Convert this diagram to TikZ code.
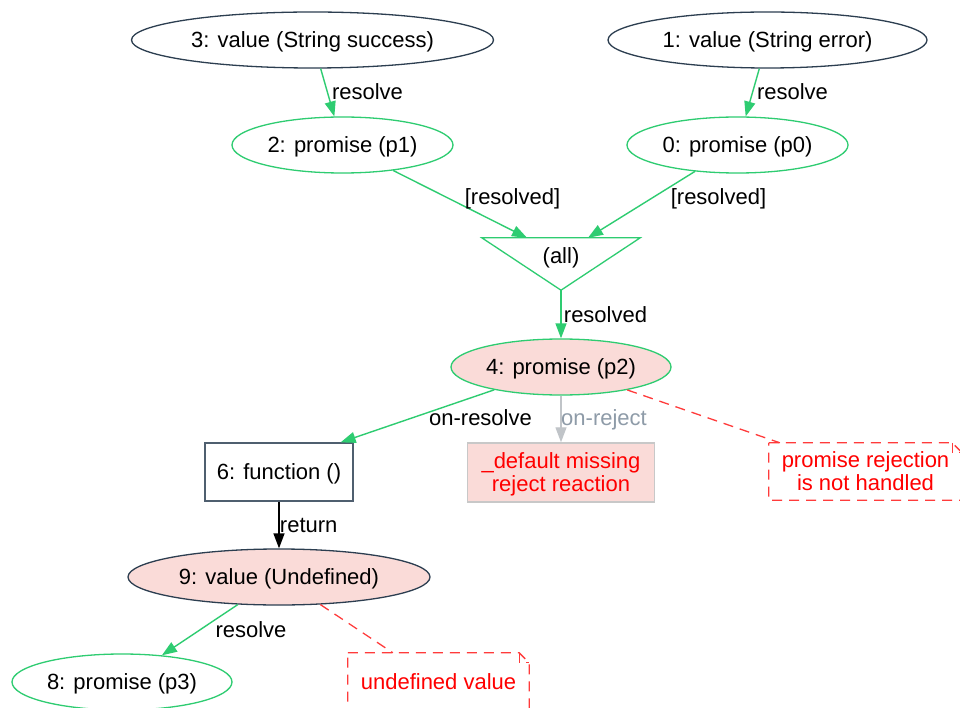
\documentclass[tikz,border=0pt]{standalone}
\usepackage{fontspec}
\setmainfont{Liberation Sans}
\usetikzlibrary{shapes.geometric,arrows.meta,calc}

\definecolor{emerald}{HTML}{2ECC71}
\definecolor{midnight}{HTML}{2C3E50}
\definecolor{slate}{HTML}{4F5F6F}
\definecolor{blush}{HTML}{FADBD8}
\definecolor{silverline}{HTML}{C0C4C8}
\definecolor{boxgray}{HTML}{C8C8C8}
\definecolor{mutedlbl}{HTML}{8E9BA8}
\definecolor{alert}{HTML}{FF0000}
\definecolor{alertline}{HTML}{FF3B3B}

\begin{document}
\begin{tikzpicture}[x=1pt,y=-1pt,
  every node/.style={font=\fontsize{22}{23}\selectfont, text height=15pt, text depth=0pt, inner sep=0pt},
  twolines/.style={align=center, text height=38pt, text depth=0pt},
  valnode/.style={ellipse, draw=midnight, line width=1.3pt, fill=white, minimum height=56},
  promnode/.style={ellipse, draw=emerald, line width=1.3pt, fill=white, minimum height=56},
  fnbox/.style={rectangle, draw=slate, line width=1.3pt, fill=white},
  defbox/.style={rectangle, draw=boxgray, line width=1.5pt, fill=blush, text=alert},
  notebox/.style={rectangle, draw=none, text=alert, align=center},
  notedash/.style={draw=alertline, line width=1.3pt, dash pattern=on 10pt off 7pt},
  edgelbl/.style={text=black},
  greenedge/.style={draw=emerald, line width=1.4pt, -{Triangle[length=15pt,width=11pt,fill=emerald]}},
  grayedge/.style={draw=silverline, line width=1.4pt, -{Triangle[length=15pt,width=11pt,fill=silverline]}},
  blackedge/.style={draw=black, line width=1.4pt, -{Triangle[length=15pt,width=11pt,fill=black]}},
  redline/.style={draw=alertline, line width=1.3pt, dash pattern=on 10pt off 7pt},
]
\useasboundingbox (0,0) rectangle (960,708);
\fill[white] (0,0) rectangle (960,708);

% value and promise nodes
\node[valnode, minimum width=362] (v3) at (312.5,40) {3: value (String success)};
\node[valnode, minimum width=319] (v1) at (767.5,40) {1: value (String error)};
\node[promnode, minimum width=221] (p1) at (342.5,145) {2: promise (p1)};
\node[promnode, minimum width=221] (p0) at (737.5,145) {0: promise (p0)};

% combinator (all), drawn as a downward triangle
\node[rectangle, minimum width=158, minimum height=52, text depth=16pt] (all) at (561,264) {(all)};
\draw[emerald, line width=1.3pt, line join=miter] (all.north west) -- (all.north east) -- (all.south) -- cycle;
\coordinate (allinL) at ($(all.north)+(-34,0)$);
\coordinate (allinR) at ($(all.north)+(27,0)$);

\node[promnode, fill=blush, minimum width=220] (p2) at (561,367) {4: promise (p2)};

\node[fnbox, minimum width=148, minimum height=58] (fn) at (279,472) {6: function ()};
\coordinate (fnin) at ($(fn.north east)+(-13,0)$);

\node[defbox, twolines, minimum width=187, minimum height=59] (dflt) at (561,472.5) {\_default missing\\reject reaction};

\node[notebox, twolines, minimum width=193, minimum height=57] (nrej) at (865.5,471.5) {promise rejection\\is not handled};
\coordinate (nrejin) at ($(nrej.north west)+(11,0)$);

\node[valnode, fill=blush, minimum width=302] (v9) at (279,577) {9: value (Undefined)};
\node[promnode, minimum width=220] (p3) at (122,682) {8: promise (p3)};

\node[notebox, minimum width=181, minimum height=58] (nund) at (438.5,682) {undefined value};
\coordinate (nundin) at ($(nund.north west)+(45,0)$);

% folded-corner note outlines
\foreach \n in {nrej,nund}{
  \draw[notedash] (\n.north west) -- ($(\n.north east)+(-10,0)$) -- ($(\n.north east)+(0,10)$)
    -- (\n.south east) -- (\n.south west) -- cycle;
  \draw[notedash] ($(\n.north east)+(-10,0)$) -- ($(\n.north east)+(-10,10)$) -- ($(\n.north east)+(0,10)$);
}

% connectors
\draw[greenedge] (v3) -- (p1);
\draw[greenedge] (v1) -- (p0);
\draw[greenedge] (p1) -- (allinL);
\draw[greenedge] (p0) -- (allinR);
\draw[greenedge] (all.south) -- (p2);
\draw[greenedge] (p2) -- (fnin);
\draw[grayedge] (p2) -- (dflt);
\draw[redline] (p2) -- (nrejin);
\draw[blackedge] (fn) -- (v9);
\draw[greenedge] (v9) -- (p3);
\draw[redline] (v9) -- (nundin);

% connector labels
\node[edgelbl] (l1) at (367.5,92) {resolve};
\node[edgelbl] (l2) at (792.5,92) {resolve};
\node[edgelbl] (l3) at (512.5,197) {[resolved]};
\node[edgelbl] (l4) at (718.5,197) {[resolved]};
\node[edgelbl] (l5) at (605.5,315) {resolved};
\node[edgelbl] (l6) at (480.5,418) {on-resolve};
\node[edgelbl, text=mutedlbl] (l7) at (604,418) {on-reject};
\node[edgelbl] (l8) at (308.7,525) {return};
\node[edgelbl] (l9) at (251,630) {resolve};
\end{tikzpicture}
\end{document}
